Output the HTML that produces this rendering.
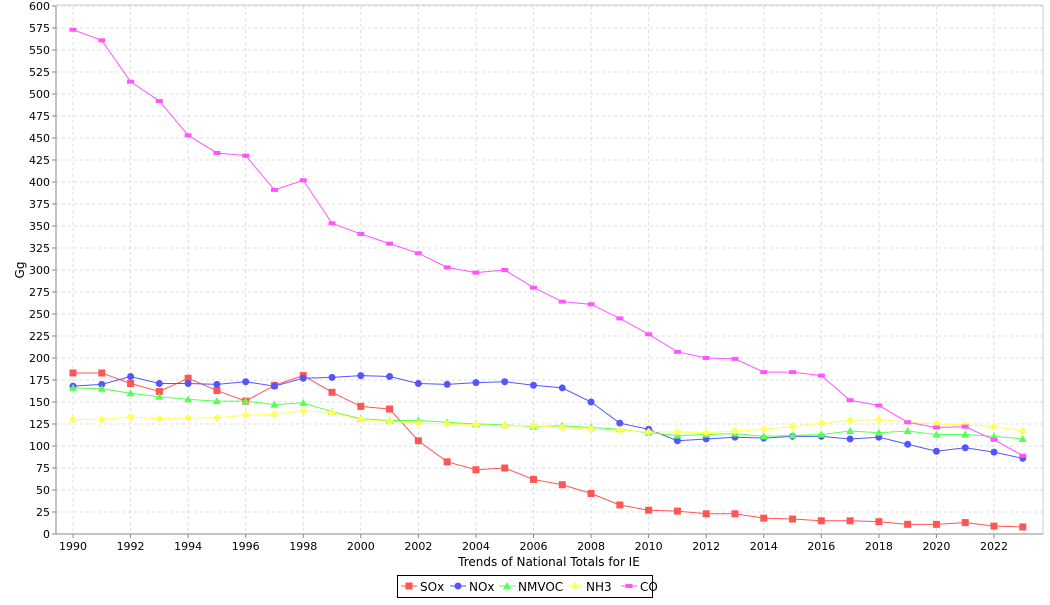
<!DOCTYPE html>
<html><head><meta charset="utf-8"><style>
body{margin:0;background:#fff;font-family:"Liberation Sans","DejaVu Sans",sans-serif}
svg text{font-family:"DejaVu Sans","Liberation Sans",sans-serif}
</style></head><body>
<svg id="c" width="1050" height="600" xmlns="http://www.w3.org/2000/svg"></svg>
<script>
const s=document.getElementById('c');
const X0=56,X1=1043,Y0=534,YT=6;
const xv=y=>73+(y-1990)*(994-73)/32;
const yv=v=>Y0-v*(Y0-YT)/600;
let h='<rect x="0" y="0" width="1050" height="600" fill="#fff"/>';
for(let v=0;v<=600;v+=25){const y=yv(v);
 if(v>0)h+=`<line x1="${X0}" x2="${X1}" y1="${y}" y2="${y}" stroke="#ddd" stroke-dasharray="3,3"/>`;
 h+=`<line x1="${X0-4}" x2="${X0}" y1="${y}" y2="${y}" stroke="#888"/>`;
 h+=`<text x="${X0-6}" y="${y+4}" font-size="11" text-anchor="end">${v}</text>`;}
for(let yr=1990;yr<=2022;yr+=2){const x=xv(yr);
 h+=`<line x1="${x}" x2="${x}" y1="${YT}" y2="${Y0}" stroke="#ddd" stroke-dasharray="3,3"/>`;
 h+=`<line x1="${x}" x2="${x}" y1="${Y0}" y2="${Y0+4}" stroke="#888"/>`;
 h+=`<text x="${x}" y="${Y0+16}" font-size="11" text-anchor="middle">${yr}</text>`;}
h+=`<line x1="${X0}" x2="${X1}" y1="${YT-1}" y2="${YT-1}" stroke="#ccc"/><line x1="${X1}" x2="${X1}" y1="${YT-1}" y2="${Y0}" stroke="#ccc"/>`;
h+=`<line x1="${X0}" x2="${X0}" y1="${YT}" y2="${Y0}" stroke="#888"/><line x1="${X0}" x2="${X1}" y1="${Y0}" y2="${Y0}" stroke="#888"/>`;
h+=`<text x="24" y="270" font-size="12" text-anchor="middle" transform="rotate(-90 24 270)">Gg</text>`;
h+=`<text x="549" y="566" font-size="12" text-anchor="middle">Trends of National Totals for IE</text>`;
const D=[
['SOx','#ff5555','sq',[183,183,171,162,177,163,151,169,180,161,145,142,106,82,73,75,62,56,46,33,27,26,23,23,18,17,15,15,14,11,11,13,9,8]],
['NOx','#5555ff','ci',[168,170,179,171,171,170,173,168,177,178,180,179,171,170,172,173,169,166,150,126,119,106,108,110,109,111,111,108,110,102,94,98,93,86]],
['NMVOC','#55ff55','tr',[166,165,160,156,153,151,151,147,149,139,131,129,129,127,125,124,122,123,121,119,115,112,113,114,111,112,113,117,115,117,113,113,111,108]],
['NH3','#ffff55','di',[130,130,133,131,132,132,135,136,140,138,130,128,126,125,124,123,123,121,119,118,116,116,115,117,119,122,126,129,130,127,125,124,122,117]],
['CO','#ff55ff','re',[573,561,514,492,453,433,430,391,402,353,341,330,319,303,297,300,280,264,261,245,227,207,200,199,184,184,180,152,146,127,121,122,107,89]]];
function mk(t,x,y,c){
 if(t=='sq')return `<rect x="${x-3.5}" y="${y-3.5}" width="7" height="7" fill="${c}"/>`;
 if(t=='ci')return `<circle cx="${x}" cy="${y}" r="3.5" fill="${c}"/>`;
 if(t=='tr')return `<polygon points="${x},${y-4} ${x+4},${y+3} ${x-4},${y+3}" fill="${c}"/>`;
 if(t=='di')return `<polygon points="${x},${y-4} ${x+4},${y} ${x},${y+4} ${x-4},${y}" fill="${c}"/>`;
 return `<rect x="${x-3.5}" y="${y-2}" width="7" height="4" fill="${c}"/>`;}
for(const [n,c,t,v] of D){
 h+=`<polyline fill="none" stroke="${c}" stroke-width="1" points="${v.map((a,i)=>xv(1990+i)+','+yv(a)).join(' ')}"/>`;
 v.forEach((a,i)=>h+=mk(t,xv(1990+i),yv(a),c));}
h+=`<rect x="397.5" y="575.5" width="255" height="22" fill="#fff" stroke="#000"/>`;
const lx=[401,450,499,567,621];
D.forEach(([n,c,t],i)=>{const x=lx[i];
 h+=`<line x1="${x}" x2="${x+16}" y1="586" y2="586" stroke="${c}"/>`+mk(t,x+8,586,c)+`<text x="${x+19}" y="591" font-size="12">${n}</text>`;});
s.innerHTML=h;
</script>
</body></html>
